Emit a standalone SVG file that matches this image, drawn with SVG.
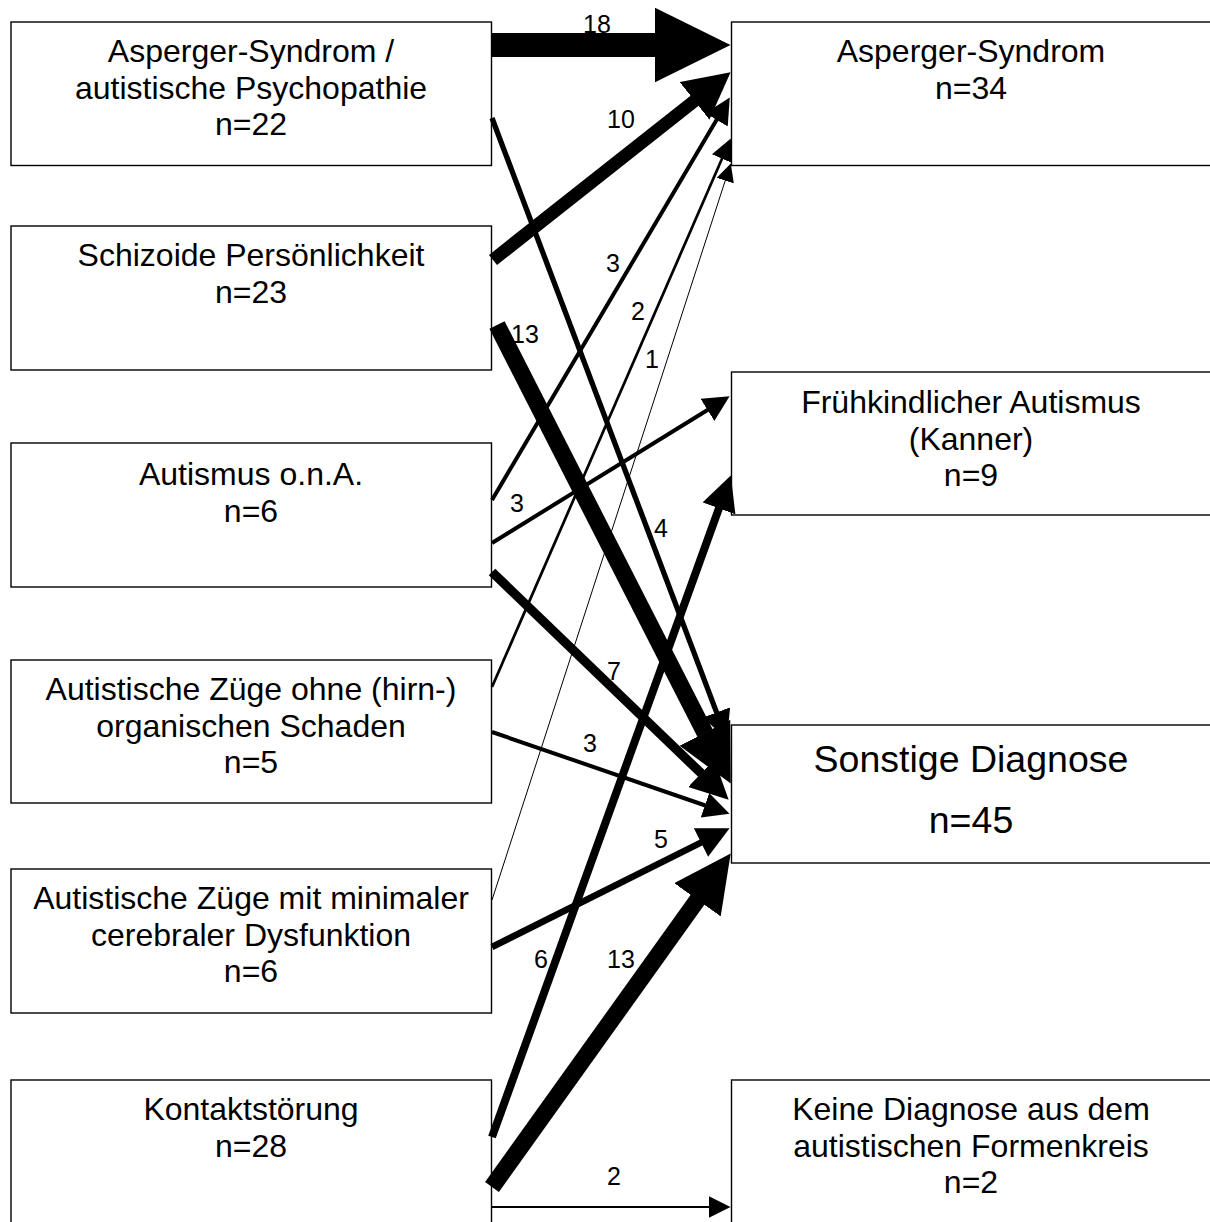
<svg xmlns="http://www.w3.org/2000/svg" width="1210" height="1222" viewBox="0 0 1210 1222">
<style>
.box{fill:#fff;stroke:#000;stroke-width:1.4}
.t{font-family:"Liberation Sans",Arial,Helvetica,sans-serif;font-size:32px;text-anchor:middle;fill:#000}
.big{font-size:37.5px}
.lbl{font-family:"Liberation Sans",Arial,Helvetica,sans-serif;font-size:25px;text-anchor:middle;fill:#000}
.c{stroke:#000;fill:none;stroke-linecap:butt}
</style>
<defs>
<marker id="m18" markerUnits="userSpaceOnUse" markerWidth="76" markerHeight="75" viewBox="0 0 76 75" refX="0.5" refY="37.5" orient="auto"><path d="M0,0L76,37.5L0,75z"/></marker>
<marker id="m13" markerUnits="userSpaceOnUse" markerWidth="57" markerHeight="57" viewBox="0 0 57 57" refX="0.5" refY="28.5" orient="auto"><path d="M0,0L57,28.5L0,57z"/></marker>
<marker id="m10" markerUnits="userSpaceOnUse" markerWidth="46" markerHeight="48" viewBox="0 0 46 48" refX="0.5" refY="24" orient="auto"><path d="M0,0L46,24L0,48z"/></marker>
<marker id="m7" markerUnits="userSpaceOnUse" markerWidth="38" markerHeight="38" viewBox="0 0 38 38" refX="0.5" refY="19" orient="auto"><path d="M0,0L38,19L0,38z"/></marker>
<marker id="m6" markerUnits="userSpaceOnUse" markerWidth="35" markerHeight="35" viewBox="0 0 35 35" refX="0.5" refY="17.5" orient="auto"><path d="M0,0L35,17.5L0,35z"/></marker>
<marker id="m5" markerUnits="userSpaceOnUse" markerWidth="32" markerHeight="32" viewBox="0 0 32 32" refX="0.5" refY="16" orient="auto"><path d="M0,0L32,16L0,32z"/></marker>
<marker id="m4" markerUnits="userSpaceOnUse" markerWidth="29" markerHeight="29" viewBox="0 0 29 29" refX="0.5" refY="14.5" orient="auto"><path d="M0,0L29,14.5L0,29z"/></marker>
<marker id="m3" markerUnits="userSpaceOnUse" markerWidth="26" markerHeight="26" viewBox="0 0 26 26" refX="0.5" refY="13" orient="auto"><path d="M0,0L26,13L0,26z"/></marker>
<marker id="m2" markerUnits="userSpaceOnUse" markerWidth="22" markerHeight="22" viewBox="0 0 22 22" refX="0.5" refY="11" orient="auto"><path d="M0,0L22,11L0,22z"/></marker>
<marker id="m1" markerUnits="userSpaceOnUse" markerWidth="18" markerHeight="18" viewBox="0 0 18 18" refX="0.5" refY="9" orient="auto"><path d="M0,0L18,9L0,18z"/></marker>
</defs>

<g id="n-asperger-psychopathie">
<rect class="box" x="11" y="22" width="480.5" height="143.5"/>
<text class="t" x="251" y="62">Asperger-Syndrom /</text>
<text class="t" x="251" y="98.5">autistische Psychopathie</text>
<text class="t" x="251" y="135">n=22</text>
</g>
<g id="n-schizoide">
<rect class="box" x="11" y="226" width="480.5" height="144"/>
<text class="t" x="251" y="266">Schizoide Persönlichkeit</text>
<text class="t" x="251" y="303">n=23</text>
</g>
<g id="n-autismus-ona">
<rect class="box" x="11" y="443" width="480.5" height="144"/>
<text class="t" x="251" y="485">Autismus o.n.A.</text>
<text class="t" x="251" y="522">n=6</text>
</g>
<g id="n-zuege-ohne">
<rect class="box" x="11" y="660" width="480.5" height="143"/>
<text class="t" x="251" y="700">Autistische Züge ohne (hirn-)</text>
<text class="t" x="251" y="737">organischen Schaden</text>
<text class="t" x="251" y="773">n=5</text>
</g>
<g id="n-zuege-mit">
<rect class="box" x="11" y="869" width="480.5" height="144"/>
<text class="t" x="251" y="909">Autistische Züge mit minimaler</text>
<text class="t" x="251" y="946">cerebraler Dysfunktion</text>
<text class="t" x="251" y="982">n=6</text>
</g>
<g id="n-kontakt">
<rect class="box" x="11" y="1080" width="480.5" height="160"/>
<text class="t" x="251" y="1120">Kontaktstörung</text>
<text class="t" x="251" y="1157">n=28</text>
</g>

<g id="n-asperger">
<rect class="box" x="731.5" y="22" width="490" height="143.5"/>
<text class="t" x="971" y="62">Asperger-Syndrom</text>
<text class="t" x="971" y="99">n=34</text>
</g>
<g id="n-kanner">
<rect class="box" x="731.5" y="372" width="490" height="143"/>
<text class="t" x="971" y="413">Frühkindlicher Autismus</text>
<text class="t" x="971" y="450">(Kanner)</text>
<text class="t" x="971" y="486">n=9</text>
</g>
<g id="n-sonstige">
<rect class="box" x="731.5" y="725" width="490" height="138"/>
<text class="t big" x="971" y="772">Sonstige Diagnose</text>
<text class="t big" x="971" y="833">n=45</text>
</g>
<g id="n-keine">
<rect class="box" x="731.5" y="1080" width="490" height="160"/>
<text class="t" x="971" y="1120">Keine Diagnose aus dem</text>
<text class="t" x="971" y="1157">autistischen Formenkreis</text>
<text class="t" x="971" y="1193">n=2</text>
</g>

<g id="connectors">
<line class="c" x1="491" y1="45" x2="655" y2="45" stroke-width="24" marker-end="url(#m18)"/>
<line class="c" x1="493" y1="260" x2="694.9" y2="100.5" stroke-width="13" marker-end="url(#m10)"/>
<line class="c" x1="492" y1="118" x2="716.75" y2="712.9" stroke-width="5.3" marker-end="url(#m4)"/>
<line class="c" x1="497" y1="325" x2="705.1" y2="733.2" stroke-width="17" marker-end="url(#m13)"/>
<line class="c" x1="492" y1="500" x2="716.8" y2="119.4" stroke-width="4" marker-end="url(#m3)"/>
<line class="c" x1="492" y1="543" x2="707.9" y2="409.7" stroke-width="4" marker-end="url(#m3)"/>
<line class="c" x1="492" y1="572" x2="701.6" y2="773.7" stroke-width="9.3" marker-end="url(#m7)"/>
<line class="c" x1="492" y1="687" x2="722.2" y2="158.2" stroke-width="2.7" marker-end="url(#m2)"/>
<line class="c" x1="492" y1="732" x2="705.4" y2="805.5" stroke-width="4" marker-end="url(#m3)"/>
<line class="c" x1="492" y1="900" x2="725.4" y2="180.1" stroke-width="1" marker-end="url(#m1)"/>
<line class="c" x1="492" y1="947" x2="701.4" y2="842.3" stroke-width="6.5" marker-end="url(#m5)"/>
<line class="c" x1="492" y1="1137" x2="719.1" y2="507.9" stroke-width="8" marker-end="url(#m6)"/>
<line class="c" x1="492" y1="1187" x2="697.8" y2="899.4" stroke-width="17" marker-end="url(#m13)"/>
<line class="c" x1="491" y1="1207" x2="709" y2="1207" stroke-width="2" marker-end="url(#m2)"/>

<text class="lbl" x="597" y="33">18</text>
<text class="lbl" x="621" y="128">10</text>
<text class="lbl" x="613" y="272">3</text>
<text class="lbl" x="638" y="320">2</text>
<text class="lbl" x="652" y="368">1</text>
<text class="lbl" x="525" y="343">13</text>
<text class="lbl" x="517" y="512">3</text>
<text class="lbl" x="661" y="537">4</text>
<text class="lbl" x="614" y="680">7</text>
<text class="lbl" x="590" y="752">3</text>
<text class="lbl" x="661" y="848">5</text>
<text class="lbl" x="541" y="968">6</text>
<text class="lbl" x="621" y="968">13</text>
<text class="lbl" x="614" y="1185">2</text>
</g>
</svg>
